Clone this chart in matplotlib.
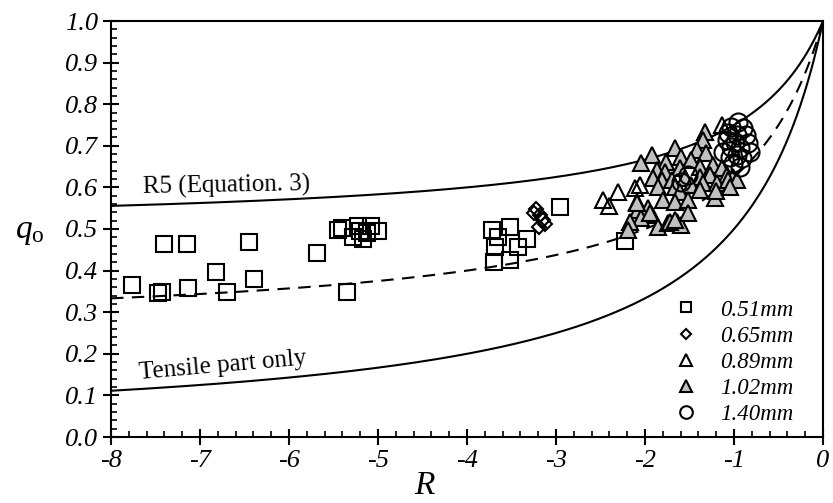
import numpy as np
import matplotlib
matplotlib.use("Agg")
import matplotlib.pyplot as plt
from matplotlib.ticker import MultipleLocator, FormatStrFormatter

plt.rcParams['font.family'] = ['Liberation Serif', 'DejaVu Serif']
plt.rcParams['mathtext.fontset'] = 'custom'
plt.rcParams['mathtext.rm'] = 'Liberation Serif'
plt.rcParams['mathtext.it'] = 'Liberation Serif:italic'

# 0.51mm
sq_R = [-7.76, -7.47, -7.43, -7.41, -7.15, -7.13, -6.82, -6.70, -6.45, -6.39, -5.69, -5.35,
        -5.45, -5.40, -5.28, -5.22, -5.20, -5.17, -5.12, -5.08, -5.00,
        -3.72, -3.52, -3.65, -3.33, -3.43, -3.69, -3.70, -3.52, -2.96, -2.22]
sq_q = [0.365, 0.345, 0.349, 0.465, 0.464, 0.357, 0.397, 0.349, 0.469, 0.381, 0.442, 0.349,
        0.497, 0.503, 0.480, 0.507, 0.494, 0.475, 0.490, 0.508, 0.496,
        0.497, 0.505, 0.480, 0.475, 0.456, 0.456, 0.421, 0.425, 0.553, 0.470]

# 0.65mm
dm_R = [-3.25, -3.22, -3.18, -3.15, -3.12, -3.19]
dm_q = [0.538, 0.547, 0.534, 0.522, 0.512, 0.505]

# 0.89mm
ot_R = [-2.47, -2.40, -2.30, -2.11, -2.06, -1.14]
ot_q = [0.570, 0.555, 0.590, 0.598, 0.606, 0.750]

# 1.02mm
ft_R = [-1.33, -1.35, -1.66, -1.92, -2.04, -1.76, -1.59, -1.42, -1.31, -1.48,
        -1.87, -1.78, -1.61, -1.38, -1.24, -1.14, -1.91, -1.81, -1.70, -1.55,
        -1.38, -1.27, -1.08, -1.01, -1.85, -1.66, -1.48, -1.35, -1.19, -1.07,
        -0.97, -1.61, -1.38, -1.21, -1.80, -1.66, -1.52, -2.09, -2.08, -1.97,
        -1.92, -2.04, -2.17, -2.19, -1.85, -1.74, -1.64, -1.59, -1.52, -2.09,
        -1.94, -1.72, -1.66, -1.20, -1.05]
ft_q = [0.734, 0.714, 0.694, 0.678, 0.658, 0.662, 0.674, 0.690, 0.682, 0.666,
        0.642, 0.638, 0.646, 0.650, 0.654, 0.646, 0.622, 0.618, 0.618, 0.622,
        0.626, 0.630, 0.630, 0.626, 0.601, 0.601, 0.606, 0.610, 0.610, 0.618,
        0.618, 0.590, 0.594, 0.574, 0.570, 0.566, 0.570, 0.566, 0.546, 0.550,
        0.534, 0.526, 0.518, 0.498, 0.506, 0.514, 0.518, 0.510, 0.538, 0.562,
        0.538, 0.518, 0.522, 0.592, 0.600]

# 1.40mm
ci_R = [-0.95, -1.03, -0.90, -1.07, -0.97, -0.86, -1.08, -0.99, -0.84, -1.03,
        -0.93, -1.12, -0.82, -0.97, -1.04, -0.91, -1.01, -0.93, -1.52, -1.59]
ci_q = [0.758, 0.746, 0.743, 0.730, 0.726, 0.726, 0.714, 0.710, 0.706, 0.698,
        0.694, 0.686, 0.686, 0.678, 0.674, 0.670, 0.658, 0.650, 0.630, 0.614]

legend_labels = ['0.51mm', '0.65mm', '0.89mm', '1.02mm', '1.40mm']

# model curves q = c + (1 - c) / (1 - R)
c_r5 = 0.5
c_mid = 0.25
c_tens = 0.0

R = np.linspace(-8, 0, 400)
def model(c):
    return c + (1 - c) / (1 - R)

fig = plt.figure(figsize=(8.33, 5.03), dpi=100)
ax = fig.add_axes([111 / 833, 1 - 437 / 503, 712 / 833, 416 / 503])

ax.plot(R, model(c_r5), color='black', lw=1.5)
ax.plot(R, model(c_mid), color='black', lw=1.5, linestyle=(0, (6, 4)))
ax.plot(R, model(c_tens), color='black', lw=1.5)

mk = dict(linestyle='none', markeredgecolor='black', markeredgewidth=1.5)
ax.plot(sq_R, sq_q, marker='s', ms=11, markerfacecolor='none', label=legend_labels[0], **mk)
ax.plot(dm_R, dm_q, marker='D', ms=7.5, markerfacecolor='none', label=legend_labels[1], **mk)
ax.plot(ot_R, ot_q, marker='^', ms=12, markerfacecolor='none', label=legend_labels[2], **mk)
ax.plot(ft_R, ft_q, marker='^', ms=12, markerfacecolor='#c0c0c0', label=legend_labels[3], **mk)
ax.plot(ci_R, ci_q, marker='o', ms=13, markerfacecolor='none', label=legend_labels[4], **mk)

ax.set_xlim(-8, 0)
ax.set_ylim(0, 1)
ax.xaxis.set_major_locator(MultipleLocator(1))
ax.xaxis.set_minor_locator(MultipleLocator(0.2))
ax.yaxis.set_major_locator(MultipleLocator(0.1))
ax.yaxis.set_minor_locator(MultipleLocator(0.02))
ax.xaxis.set_major_formatter(FormatStrFormatter('%d'))
ax.yaxis.set_major_formatter(FormatStrFormatter('%.1f'))
ax.tick_params(which='major', direction='inout', length=11, width=1.5,
               labelsize=19, pad=4, top=False, right=False)
ax.tick_params(which='minor', direction='in', length=4, width=1.2, top=False, right=False)
for lab in ax.get_xticklabels() + ax.get_yticklabels():
    lab.set_fontstyle('italic')
for s in ax.spines.values():
    s.set_linewidth(1.5)

ax.text(-7.64, 0.585, 'R5 (Equation. 3)', fontsize=18, rotation=1)
ax.text(-7.70, 0.14, 'Tensile part only', fontsize=18, rotation=5)

fig.text(30 / 833, 1 - 232 / 503, r'$q_{\mathrm{o}}$', fontsize=24, ha='center', va='center')
fig.text(424 / 833, 1 - 486 / 503, 'R', fontsize=24, style='italic', ha='center', va='center')

leg = ax.legend(loc='upper left', bbox_to_anchor=(661 / 833, 1 - 288 / 503),
                bbox_transform=fig.transFigure, frameon=False, markerscale=0.7,
                handlelength=1.2, handletextpad=0.9, labelspacing=0.22, borderpad=0,
                prop={'size': 16.5, 'style': 'italic'})

fig.savefig('out.png', dpi=100)
